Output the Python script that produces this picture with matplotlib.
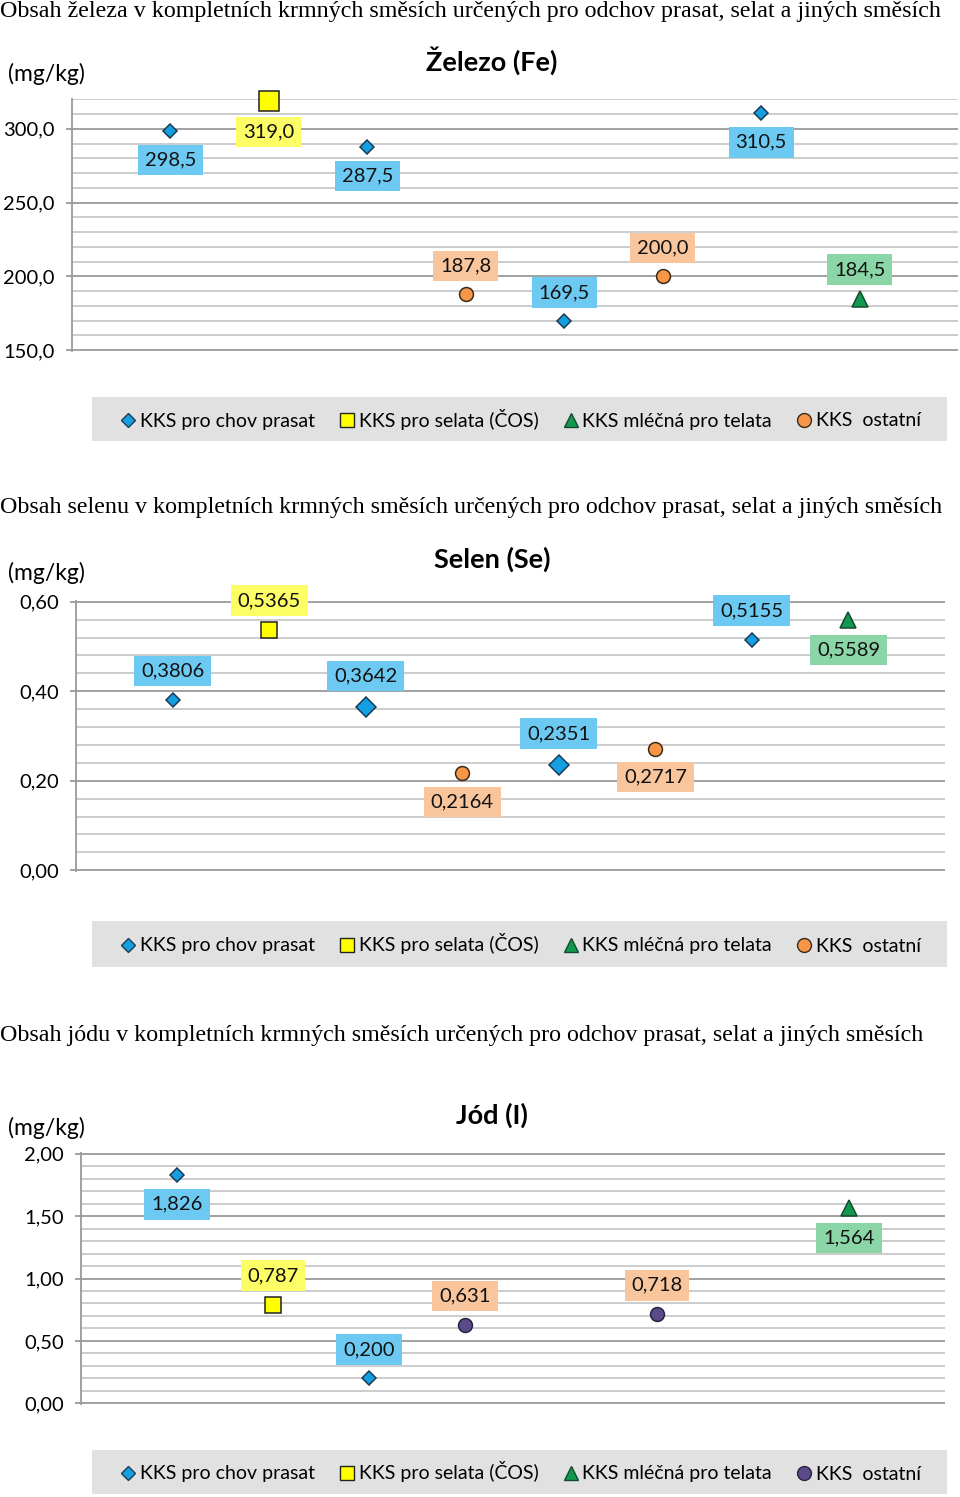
import matplotlib
matplotlib.use("Agg")
import matplotlib.pyplot as plt
from matplotlib.lines import Line2D
from matplotlib.patches import Rectangle
from matplotlib.ticker import MultipleLocator, FuncFormatter

W, H = 960, 1497
SANS = "Lato"
SERIF = "Liberation Serif"

series_names = ["KKS pro chov prasat", "KKS pro selata (ČOS)",
                "KKS mléčná pro telata", "KKS  ostatní"]

# zelezo (Fe)
fe_slots = [1, 2, 3, 4, 5, 6, 7, 8]
fe_values = [298.5, 319.0, 287.5, 187.8, 169.5, 200.0, 310.5, 184.5]
fe_series = [0, 1, 0, 3, 0, 3, 0, 2]

# selen (Se)
se_slots = [1, 2, 3, 4, 5, 6, 7, 8]
se_values = [0.3806, 0.5365, 0.3642, 0.2164, 0.2351, 0.2717, 0.5155, 0.5589]
se_series = [0, 1, 0, 3, 0, 3, 0, 2]

# jod (I)
i_slots = [1, 2, 3, 4, 6, 8]
i_values = [1.826, 0.787, 0.200, 0.631, 0.718, 1.564]
i_series = [0, 1, 0, 3, 3, 2]

# label placement (True = above the marker)
fe_above = [False, False, False, True, True, True, False, True]
se_above = [True, True, True, False, True, False, True, False]
i_above = [False, True, True, True, True, False]

# marker styles per series
markers = ["D", "s", "^", "o"]
face = ["#139fe0", "#ffff00", "#12994f", "#f79646"]
edge = ["#1d3b57", "#222222", "#154a30", "#3a2a1a"]
box = ["#6ccaf2", "#fdfd66", "#8ad6a6", "#f9c59c"]
base_size = [7.5, 14, 12, 10]

fig = plt.figure(figsize=(W / 100, H / 100), dpi=100)


def px_axes(left, right, top, bottom):
    return fig.add_axes([left / W, 1 - bottom / H, (right - left) / W, (bottom - top) / H])


def draw_panel(ax, slots, values, series, above, dec, ylim, major, minor, tdec,
               sizes, circle_face, circle_edge):
    lo, hi = ylim
    pad = (hi - lo) * 0.003
    ax.set_ylim(lo - pad, hi + pad)
    ax.set_xlim(0, 9)
    ax.yaxis.set_major_locator(MultipleLocator(major))
    ax.yaxis.set_minor_locator(MultipleLocator(minor))
    ax.grid(axis="y", which="major", color="#9a9a9a", lw=1.3)
    ax.grid(axis="y", which="minor", color="#c8c8c8", lw=1.3)
    ax.set_axisbelow(True)
    ax.set_xticks([])
    for s in ["top", "right", "bottom"]:
        ax.spines[s].set_visible(False)
    ax.spines["left"].set_color("#9a9a9a")
    ax.spines["left"].set_linewidth(1.3)
    ax.tick_params(axis="y", which="major", length=4.5, color="#9a9a9a", width=1.3,
                   labelsize=14.5, pad=8)
    ax.tick_params(axis="y", which="minor", length=0)
    ax.yaxis.set_major_formatter(FuncFormatter(lambda v, p: f"{v:.{tdec}f}".replace(".", ",")))
    for lab in ax.get_yticklabels():
        lab.set_fontfamily(SANS)
    for x, v, k, up, ms in zip(slots, values, series, above, sizes):
        fc = circle_face if k == 3 else face[k]
        ec = circle_edge if k == 3 else edge[k]
        ax.plot(x, v, marker=markers[k], ms=ms, mfc=fc, mec=ec, mew=1.1, ls="none",
                clip_on=False, zorder=4)
        half = ms * (0.707 if k == 0 else 0.5)
        off = half + 15.5
        ax.annotate(f"{v:.{dec}f}".replace(".", ","), (x, v),
                    xytext=(0, off if up else -off), textcoords="offset points",
                    ha="center", va="center", fontsize=14.5, family=SANS, color="#111111",
                    bbox=dict(boxstyle="square,pad=0.34", fc=box[k], ec="none"), zorder=5)


def legend_band(top, bottom, circle_face, circle_edge):
    fig.patches.append(Rectangle((92 / W, 1 - bottom / H), (947 - 92) / W, (bottom - top) / H,
                                 transform=fig.transFigure, fc="#e1e1e1", ec="none"))
    handles = []
    for k in range(4):
        fc = circle_face if k == 3 else face[k]
        ec = circle_edge if k == 3 else edge[k]
        ms = [7.5, 10, 10, 10][k]
        handles.append(Line2D([], [], marker=markers[k], ls="none", ms=ms, mfc=fc, mec=ec, mew=1.0))
    fig.legend(handles, series_names, loc="center", ncol=4, frameon=False,
               bbox_to_anchor=(521 / W, 1 - (top + bottom) / 2 / H),
               handlelength=0.7, handletextpad=0.25, columnspacing=1.3,
               prop=dict(family=SANS, size=14))


def header(title, y_title, chart, y_chart, y_unit):
    fig.text(0, 1 - y_title / H, title, family=SERIF, fontsize=17.3, va="center", ha="left")
    fig.text(492 / W, 1 - y_chart / H, chart, family=SANS, fontsize=19.5, fontweight="bold",
             va="center", ha="center")
    fig.text(8 / W, 1 - y_unit / H, "(mg/kg)", family=SANS, fontsize=16.5, va="center", ha="left")


# panel 1
header("Obsah železa v kompletních krmných směsích určených pro odchov prasat, selat a jiných směsích",
       11, "Železo (Fe)", 61, 74)
ax1 = px_axes(72, 958, 98.5, 351)
draw_panel(ax1, fe_slots, fe_values, fe_series, fe_above, 1, (150, 320), 50, 10, 1,
           [base_size[k] for k in fe_series], face[3], edge[3])
legend_band(397, 441, face[3], edge[3])

# panel 2
header("Obsah selenu v kompletních krmných směsích určených pro odchov prasat, selat a jiných směsích",
       507, "Selen (Se)", 559, 573)
ax2 = px_axes(76, 945, 601, 871)
se_sizes = [base_size[k] for k in se_series]
se_sizes[2] = 10
se_sizes[4] = 10
se_sizes[1] = 11.5
draw_panel(ax2, se_slots, se_values, se_series, se_above, 4, (0, 0.6), 0.2, 0.04, 2,
           se_sizes, face[3], edge[3])
legend_band(921, 967, face[3], edge[3])

# panel 3
header("Obsah jódu v kompletních krmných směsích určených pro odchov prasat, selat a jiných směsích",
       1035, "Jód (I)", 1115, 1128)
ax3 = px_axes(81, 945, 1153, 1404)
i_sizes = [base_size[k] for k in i_series]
i_sizes[1] = 11.5
draw_panel(ax3, i_slots, i_values, i_series, i_above, 3, (0, 2.0), 0.5, 0.1, 2,
           i_sizes, "#5a4a8a", "#2a2340")
legend_band(1450, 1494, "#5a4a8a", "#2a2340")

fig.savefig("out.png", dpi=100)
